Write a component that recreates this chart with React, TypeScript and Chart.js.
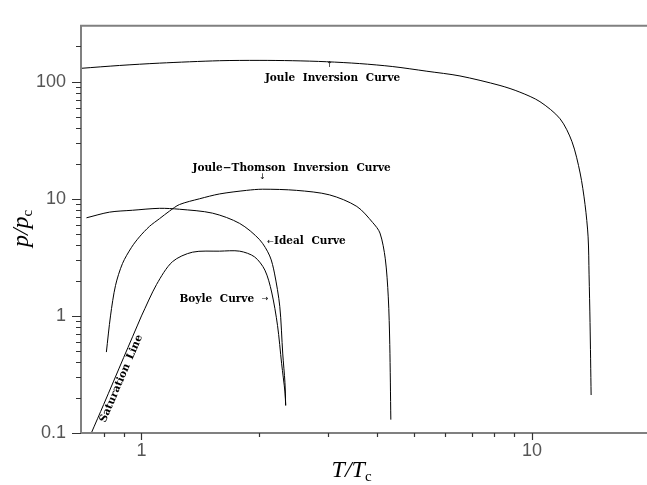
import React, { useEffect, useRef } from 'react';
import { Chart, registerables } from 'chart.js';

Chart.register(...registerables);

// ---------- data (reduced temperature T/Tc, reduced pressure p/pc) ----------
const JOULE_T = [0.70, 0.878, 1.112, 1.585, 2.0, 2.44, 2.98, 3.62, 4.40, 5.38, 6.54, 8.28, 9.31, 10.48, 11.8, 12.66, 13.28, 13.67, 13.92, 14.0, 14.08, 14.17];
const JOULE_P = [130, 137.5, 144, 151, 152, 151, 148, 142.7, 134.6, 122.8, 111.9, 92.8, 81.4, 67.5, 48.2, 30.7, 16.6, 8.94, 4.73, 2.24, 0.877, 0.211];

const JT_T = [0.813, 0.833, 0.858, 0.894, 0.943, 0.988, 1.048, 1.112, 1.18, 1.251, 1.408, 1.585, 1.858, 2.043, 2.496, 3.03, 3.56, 3.91, 4.08, 4.21, 4.285, 4.323, 4.35];
const JT_P = [0.491, 1.0, 1.82, 2.80, 3.85, 4.73, 5.81, 6.76, 7.86, 8.93, 10.0, 11.0, 11.8, 12.07, 11.8, 10.8, 8.6, 6.26, 5.1, 3.07, 1.454, 0.57, 0.13];

const IDEAL_T = [0.723, 0.828, 0.948, 1.112, 1.251, 1.52, 1.784, 2.007, 2.13, 2.19, 2.26, 2.30, 2.33, 2.34];
const IDEAL_P = [6.88, 7.69, 7.98, 8.29, 8.14, 7.54, 6.16, 4.47, 3.25, 2.32, 1.206, 0.473, 0.27, 0.172];

const BOYLE_T = [1.0, 1.093, 1.2, 1.351, 1.585, 1.784, 1.948, 2.07, 2.154, 2.23, 2.285, 2.33, 2.34];
const BOYLE_P = [1.0, 1.855, 2.9, 3.5, 3.57, 3.57, 3.19, 2.46, 1.6, 0.83, 0.39, 0.224, 0.172];

const SAT_T = [0.744, 0.8, 0.9, 1.0];
const SAT_P = [0.1, 0.175, 0.44, 1.0];

// ---------- axes ----------
const X_MIN = 0.7;
const X_MAX = 19.7;
const Y_MIN = 0.1;
const Y_MAX = 300;
const X_MAJOR = [1, 10];
const X_LABELS = ['1', '10'];
const X_MINOR = [0.8, 0.9, 2, 3, 4, 5, 6, 7, 8, 9];
const Y_MAJOR = [0.1, 1, 10, 100];
const Y_LABELS = ['0.1', '1', '10', '100'];
const Y_MINOR = [0.2, 0.3, 0.4, 0.5, 0.6, 0.7, 0.8, 0.9, 2, 3, 4, 5, 6, 7, 8, 9, 20, 30, 40, 50, 60, 70, 80, 90, 200];

// ---------- annotations (anchored in data coordinates) ----------
const ANNOT_FONT = 'bold 10.5px "DejaVu Serif"';
const ARROW_FONT = '8px "DejaVu Sans"';
type Run = { t: string; font: string; dy?: number };
const ANNOTATIONS: { x: number; y: number; align: 'left' | 'center'; runs: Run[] }[] = [
  { x: 2.07, y: 106, align: 'left', runs: [{ t: 'Joule Inversion Curve', font: ANNOT_FONT }] },
  { x: 3.03, y: 140, align: 'center', runs: [{ t: '↑', font: ARROW_FONT }] },
  { x: 1.351, y: 18.2, align: 'left', runs: [{ t: 'Joule−Thomson Inversion Curve', font: ANNOT_FONT }] },
  { x: 2.04, y: 15.4, align: 'center', runs: [{ t: '↓', font: ARROW_FONT }] },
  { x: 2.10, y: 4.31, align: 'left', runs: [{ t: '←', font: ARROW_FONT }, { t: 'Ideal Curve', font: ANNOT_FONT }] },
  { x: 1.251, y: 1.40, align: 'left', runs: [{ t: 'Boyle Curve ', font: ANNOT_FONT }, { t: '→', font: ARROW_FONT }] },
];
const SAT_LABEL = { x: 0.856, y: 0.307, text: 'Saturation Line' };

function pts(xs: number[], ys: number[]) {
  return xs.map((x, i) => ({ x, y: ys[i] }));
}

function drawRuns(ctx: CanvasRenderingContext2D, x: number, y: number, runs: Run[], align: 'left' | 'center') {
  let w = 0;
  runs.forEach((r) => {
    ctx.font = r.font;
    w += ctx.measureText(r.t).width;
  });
  let cx = align === 'center' ? x - w / 2 : x;
  runs.forEach((r) => {
    ctx.font = r.font;
    ctx.fillText(r.t, cx, y + (r.dy || 0));
    cx += ctx.measureText(r.t).width;
  });
}

const decorPlugin = {
  id: 'decor',
  afterDraw(chart: any) {
    const { ctx, chartArea: ca, scales } = chart;
    const xs = scales.x;
    const ys = scales.y;
    ctx.save();
    // axis lines
    ctx.strokeStyle = '#808080';
    ctx.lineWidth = 2;
    ctx.beginPath();
    ctx.moveTo(ca.right, ca.top);
    ctx.lineTo(ca.left, ca.top);
    ctx.lineTo(ca.left, ca.bottom);
    ctx.lineTo(ca.right, ca.bottom);
    ctx.stroke();
    // ticks
    ctx.strokeStyle = '#333';
    ctx.lineWidth = 1.2;
    ctx.beginPath();
    Y_MINOR.forEach((v) => {
      const p = Math.round(ys.getPixelForValue(v)) + 0.5;
      ctx.moveTo(ca.left - 5, p);
      ctx.lineTo(ca.left, p);
    });
    Y_MAJOR.forEach((v) => {
      const p = Math.round(ys.getPixelForValue(v)) + 0.5;
      ctx.moveTo(ca.left - 9, p);
      ctx.lineTo(ca.left, p);
    });
    X_MINOR.forEach((v) => {
      const p = Math.round(xs.getPixelForValue(v)) + 0.5;
      ctx.moveTo(p, ca.bottom);
      ctx.lineTo(p, ca.bottom + 4);
    });
    X_MAJOR.forEach((v) => {
      const p = Math.round(xs.getPixelForValue(v)) + 0.5;
      ctx.moveTo(p, ca.bottom);
      ctx.lineTo(p, ca.bottom + 7);
    });
    ctx.stroke();

    // annotations
    ctx.fillStyle = '#000';
    ctx.textBaseline = 'middle';
    ctx.textAlign = 'left';
    (ctx as any).wordSpacing = '4px';
    ANNOTATIONS.forEach((a) => {
      drawRuns(ctx, xs.getPixelForValue(a.x), ys.getPixelForValue(a.y), a.runs, a.align);
    });
    // saturation label rotated along (and just below) the saturation line
    const x0 = xs.getPixelForValue(SAT_T[0]);
    const y0 = ys.getPixelForValue(SAT_P[0]);
    const x1 = xs.getPixelForValue(SAT_T[SAT_T.length - 1]);
    const y1 = ys.getPixelForValue(SAT_P[SAT_P.length - 1]);
    const ang = Math.atan2(y1 - y0, x1 - x0);
    ctx.save();
    ctx.translate(xs.getPixelForValue(SAT_LABEL.x), ys.getPixelForValue(SAT_LABEL.y));
    ctx.rotate(ang);
    ctx.textAlign = 'center';
    ctx.textBaseline = 'top';
    (ctx as any).wordSpacing = '2px';
    ctx.font = ANNOT_FONT;
    ctx.fillText(SAT_LABEL.text, 0, 1.5);
    ctx.restore();
    (ctx as any).wordSpacing = '0px';

    // axis titles
    const IT = 'italic 24px "Liberation Serif"';
    const SL = 'italic 24px "Liberation Serif"';
    const SUB = '15px "Liberation Serif"';
    ctx.fillStyle = '#000';
    ctx.textAlign = 'left';
    ctx.textBaseline = 'alphabetic';
    const xt = ca.left + (ca.right - ca.left) * 0.478;
    drawRuns(ctx, xt, ca.bottom + 44, [
      { t: 'T', font: IT },
      { t: '/', font: SL },
      { t: 'T', font: IT },
      { t: 'c', font: SUB, dy: 4 },
    ], 'center');
    ctx.save();
    ctx.translate(28, (ca.top + ca.bottom) / 2 - 1);
    ctx.rotate(-Math.PI / 2);
    drawRuns(ctx, 0, 0, [
      { t: 'p', font: IT },
      { t: '/', font: SL },
      { t: 'p', font: IT },
      { t: 'c', font: SUB, dy: 4 },
    ], 'center');
    ctx.restore();
    ctx.restore();
  },
};

export default function App() {
  const ref = useRef<HTMLCanvasElement>(null);
  useEffect(() => {
    if (!ref.current) return;
    const line = (xs: number[], ys: number[]) => ({
      data: pts(xs, ys),
      showLine: true,
      borderColor: '#000',
      backgroundColor: '#000',
      borderWidth: 1,
      pointRadius: 0,
      tension: 0.3,
      fill: false,
    });
    const chart = new Chart(ref.current, {
      type: 'scatter',
      data: {
        datasets: [
          line(JOULE_T, JOULE_P),
          line(JT_T, JT_P),
          line(IDEAL_T, IDEAL_P),
          line(BOYLE_T, BOYLE_P),
          line(SAT_T, SAT_P),
        ],
      },
      options: {
        animation: false,
        responsive: true,
        maintainAspectRatio: false,
        layout: { padding: { top: 6, right: 0, bottom: 0, left: 0 } },
        plugins: { legend: { display: false }, tooltip: { enabled: false } },
        scales: {
          x: {
            type: 'logarithmic',
            min: X_MIN,
            max: X_MAX,
            grid: { display: false, drawTicks: false },
            border: { display: false },
            afterBuildTicks: (s: any) => {
              s.ticks = X_MAJOR.map((v) => ({ value: v }));
            },
            afterFit: (s: any) => {
              s.height = 52;
            },
            ticks: {
              autoSkip: false,
              maxRotation: 0,
              padding: 7,
              color: '#555',
              font: { family: '"Liberation Sans"', size: 18 },
              callback: (_v: any, i: number) => X_LABELS[i],
            },
          },
          y: {
            type: 'logarithmic',
            min: Y_MIN,
            max: Y_MAX,
            grid: { display: false, drawTicks: false },
            border: { display: false },
            afterBuildTicks: (s: any) => {
              s.ticks = Y_MAJOR.map((v) => ({ value: v }));
            },
            afterFit: (s: any) => {
              s.width = 81;
            },
            ticks: {
              autoSkip: false,
              padding: 15,
              color: '#555',
              font: { family: '"Liberation Sans"', size: 18 },
              callback: (_v: any, i: number) => Y_LABELS[i],
            },
          },
        },
      } as any,
      plugins: [decorPlugin],
    });
    return () => chart.destroy();
  }, []);
  return (
    <div style={{ position: 'fixed', left: 0, top: 0, width: 647, height: 485, background: '#fff' }}>
      <canvas ref={ref} />
    </div>
  );
}
